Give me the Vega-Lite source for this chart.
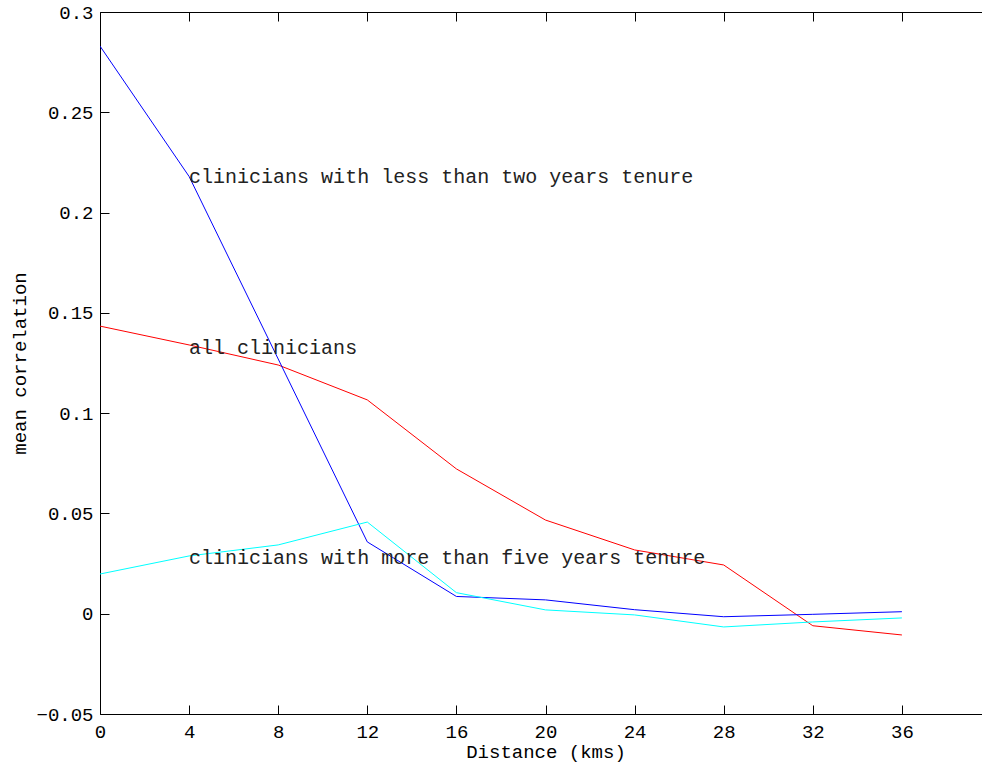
{
  "$schema": "https://vega.github.io/schema/vega-lite/v6.json",
  "width": 891,
  "height": 702,
  "autosize": {"type": "none"},
  "padding": {"left": 100, "top": 12, "right": 0, "bottom": 49},
  "background": "white",
  "config": {
    "view": {"stroke": null},
    "font": "Liberation Mono",
    "axis": {
      "domainColor": "#000",
      "tickColor": "#000",
      "labelColor": "#000",
      "titleColor": "#000",
      "labelFont": "Liberation Mono",
      "titleFont": "Liberation Mono",
      "labelFontSize": 19,
      "titleFontSize": 19,
      "titleFontWeight": "normal",
      "labelFlush": false,
      "labelOverlap": false,
      "grid": false,
      "tickSize": -9,
      "domainWidth": 1,
      "tickWidth": 1
    }
  },
  "datasets": {
    "lines": [
      {"distance": 0, "value": 0.1434, "series": "all"},
      {"distance": 4, "value": 0.1340, "series": "all"},
      {"distance": 8, "value": 0.1240, "series": "all"},
      {"distance": 12, "value": 0.1066, "series": "all"},
      {"distance": 16, "value": 0.0722, "series": "all"},
      {"distance": 20, "value": 0.0467, "series": "all"},
      {"distance": 24, "value": 0.0318, "series": "all"},
      {"distance": 28, "value": 0.0243, "series": "all"},
      {"distance": 32, "value": -0.0060, "series": "all"},
      {"distance": 36, "value": -0.0106, "series": "all"},
      {"distance": 0, "value": 0.2830, "series": "less"},
      {"distance": 4, "value": 0.2180, "series": "less"},
      {"distance": 8, "value": 0.1270, "series": "less"},
      {"distance": 12, "value": 0.0358, "series": "less"},
      {"distance": 16, "value": 0.0086, "series": "less"},
      {"distance": 20, "value": 0.0069, "series": "less"},
      {"distance": 24, "value": 0.0020, "series": "less"},
      {"distance": 28, "value": -0.0015, "series": "less"},
      {"distance": 32, "value": -0.0003, "series": "less"},
      {"distance": 36, "value": 0.0010, "series": "less"},
      {"distance": 0, "value": 0.0198, "series": "more"},
      {"distance": 4, "value": 0.0288, "series": "more"},
      {"distance": 8, "value": 0.0343, "series": "more"},
      {"distance": 12, "value": 0.0457, "series": "more"},
      {"distance": 16, "value": 0.0105, "series": "more"},
      {"distance": 20, "value": 0.0019, "series": "more"},
      {"distance": 24, "value": -0.0006, "series": "more"},
      {"distance": 28, "value": -0.0066, "series": "more"},
      {"distance": 32, "value": -0.0041, "series": "more"},
      {"distance": 36, "value": -0.0021, "series": "more"}
    ],
    "labels": [
      {"distance": 4, "value": 0.2177, "label": "clinicians with less than two years tenure"},
      {"distance": 4, "value": 0.1325, "label": "all clinicians"},
      {"distance": 4, "value": 0.0278, "label": "clinicians with more than five years tenure"}
    ]
  },
  "layer": [
    {
      "data": {"name": "lines"},
      "mark": {"type": "line", "strokeWidth": 1, "clip": true},
      "encoding": {
        "x": {
          "field": "distance", "type": "quantitative",
          "scale": {"domain": [0, 40], "nice": false, "zero": false},
          "axis": {"orient": "bottom", "values": [0, 4, 8, 12, 16, 20, 24, 28, 32, 36], "title": "Distance (kms)", "labelPadding": 17, "titleBaseline": "alphabetic", "titleY": 43, "format": "d"}
        },
        "y": {
          "field": "value", "type": "quantitative",
          "scale": {"domain": [-0.05, 0.3], "nice": false, "zero": false},
          "axis": {"orient": "left", "values": [-0.05, 0, 0.05, 0.1, 0.15, 0.2, 0.25, 0.3], "format": "~g", "title": "mean correlation", "labelPadding": 16, "titleBaseline": "alphabetic", "titleX": -75}
        },
        "color": {
          "field": "series", "type": "nominal",
          "scale": {"domain": ["all", "less", "more"], "range": ["#ff0000", "#0000ff", "#00ffff"]},
          "legend": null
        },
        "order": {"field": "distance"}
      }
    },
    {
      "data": {"name": "labels"},
      "mark": {"type": "text", "align": "left", "baseline": "middle", "fontSize": 20, "font": "Liberation Mono", "color": "#222"},
      "encoding": {
        "x": {
          "field": "distance", "type": "quantitative",
          "axis": {"orient": "top", "values": [0, 4, 8, 12, 16, 20, 24, 28, 32, 36, 40], "labels": false, "title": null}
        },
        "y": {
          "field": "value", "type": "quantitative",
          "axis": {"orient": "right", "values": [-0.05, 0, 0.05, 0.1, 0.15, 0.2, 0.25, 0.3], "labels": false, "title": null}
        },
        "text": {"field": "label"}
      }
    }
  ],
  "resolve": {"axis": {"x": "independent", "y": "independent"}}
}
